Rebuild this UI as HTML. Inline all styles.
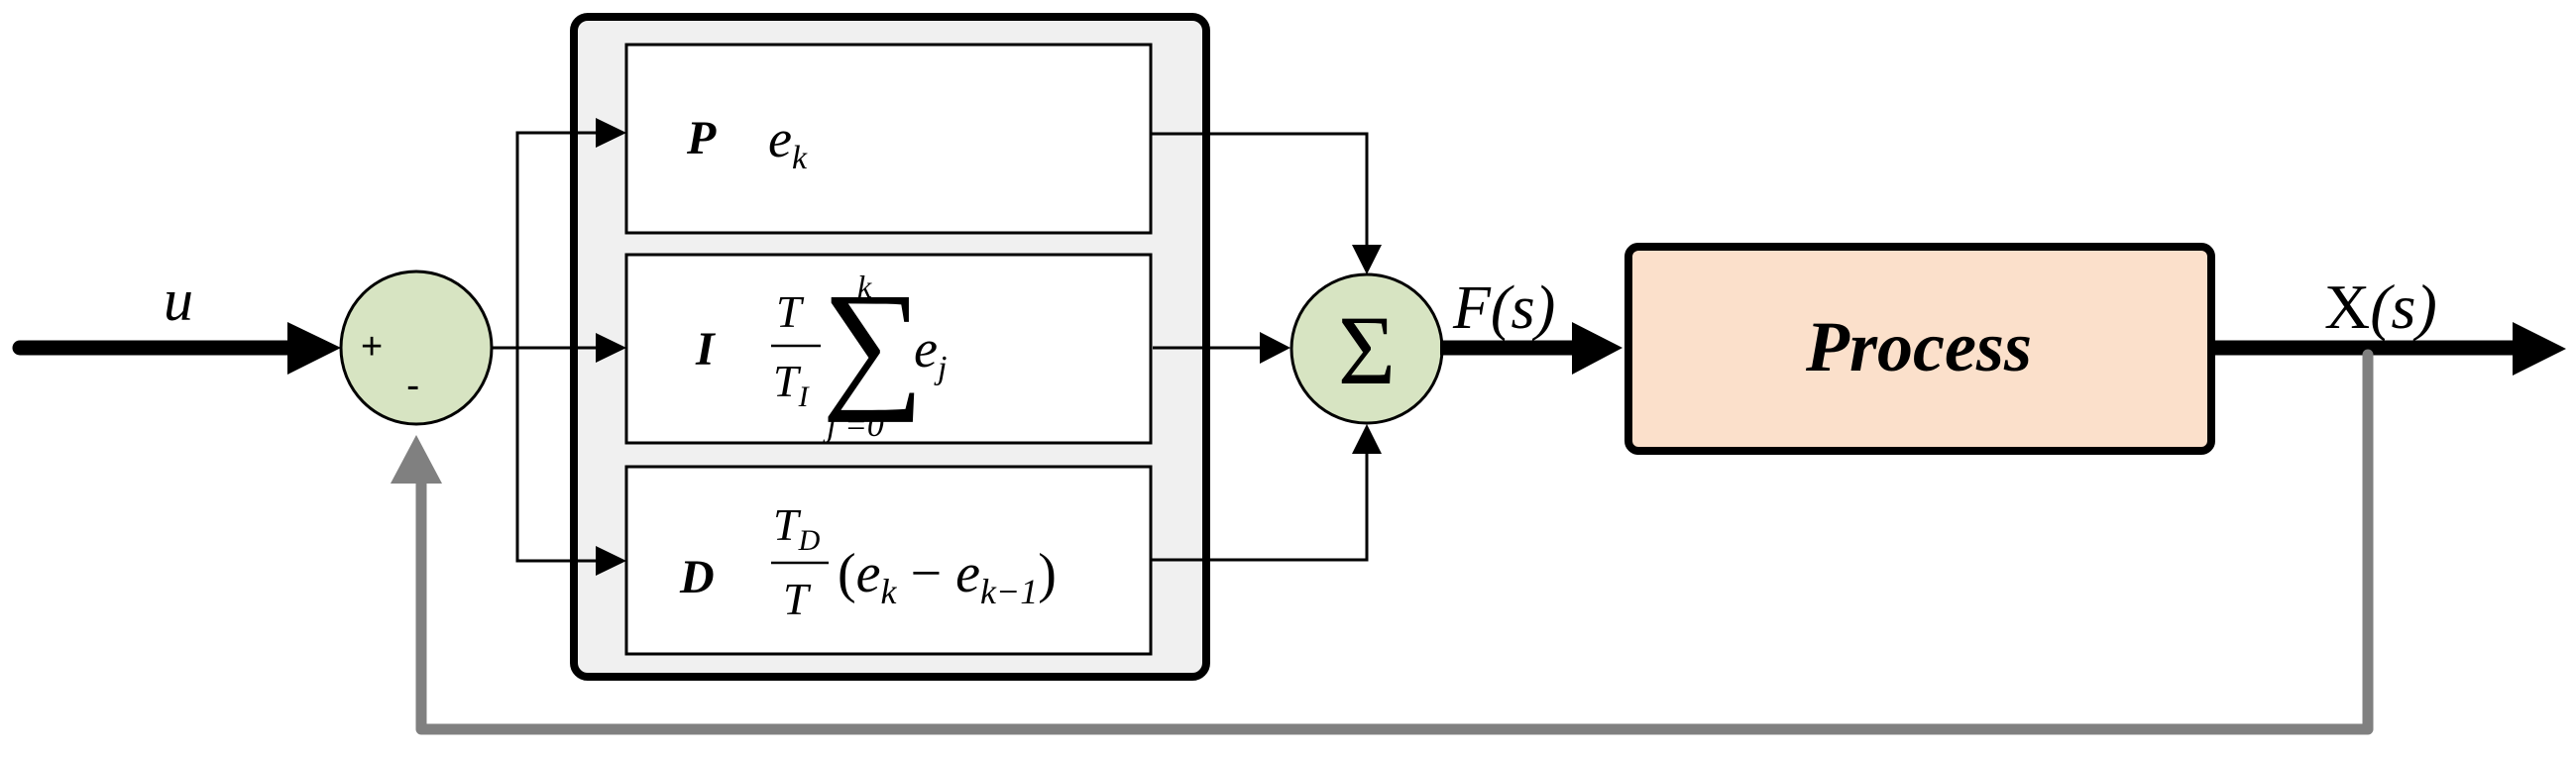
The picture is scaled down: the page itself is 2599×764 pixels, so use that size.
<!DOCTYPE html>
<html><head><meta charset="utf-8"><style>html,body{margin:0;padding:0;background:#fff}svg{display:block}</style></head>
<body>
<svg width="2599" height="764" viewBox="0 0 2599 764" xmlns="http://www.w3.org/2000/svg" font-family="Liberation Serif, serif">
<rect x="579" y="17" width="638" height="666" rx="14" fill="#f0f0f0" stroke="#000" stroke-width="8"/>
<rect x="632" y="45" width="529" height="190" fill="#fff" stroke="#000" stroke-width="3"/>
<rect x="632" y="257" width="529" height="190" fill="#fff" stroke="#000" stroke-width="3"/>
<rect x="632" y="471" width="529" height="189" fill="#fff" stroke="#000" stroke-width="3"/>

<polyline points="2389,356 2389,736 425,736 425,486" fill="none" stroke="#808080" stroke-width="11" stroke-linejoin="round" stroke-linecap="round"/>
<polygon points="394,488 446,488 420,439" fill="#808080"/>

<line x1="20" y1="351" x2="295" y2="351" stroke="#000" stroke-width="15" stroke-linecap="round"/>
<polygon points="290,325 344,351 290,378" fill="#000"/>
<text x="165" y="323" font-size="60" font-style="italic">u</text>

<ellipse cx="420" cy="351" rx="76" ry="77" fill="#d7e4c2" stroke="#000" stroke-width="3"/>
<text x="364" y="362" font-size="38" font-family="Liberation Sans, sans-serif">+</text>
<text x="410" y="402" font-size="40" font-family="Liberation Sans, sans-serif">-</text>

<g stroke="#000" stroke-width="3" fill="none">
<line x1="496" y1="351" x2="605" y2="351"/>
<polyline points="605,134 522,134 522,566 605,566"/>
<polyline points="1161,135 1379,135 1379,255"/>
<polyline points="1161,565 1379,565 1379,450"/>
<line x1="1163" y1="351" x2="1275" y2="351"/>
</g>
<polygon points="601,119 632,134 601,149" fill="#000"/>
<polygon points="601,336 632,351 601,366" fill="#000"/>
<polygon points="601,551 632,566 601,581" fill="#000"/>
<polygon points="1271,335 1302,351 1271,367" fill="#000"/>
<polygon points="1364,247 1394,247 1379,277" fill="#000"/>
<polygon points="1364,458 1394,458 1379,428" fill="#000"/>

<g font-style="italic">
<text x="693" y="155" font-size="48" font-weight="bold">P</text>
<text x="775" y="158" font-size="54">e<tspan font-size="34" dy="12">k</tspan></text>
<text x="702" y="368" font-size="48" font-weight="bold">I</text>
<text x="783" y="330" font-size="46">T</text>
<line x1="778" y1="349" x2="828" y2="349" stroke="#000" stroke-width="2.5"/>
<text x="780" y="400" font-size="46">T<tspan font-size="30" dy="10">I</tspan></text>
<text x="829" y="395" font-size="145" font-style="normal">∑</text>
<text x="865" y="300" font-size="32">k</text>
<text x="834" y="440" font-size="34">j =0</text>
<text x="922" y="370" font-size="54">e<tspan font-size="34" dy="12">j</tspan></text>
<text x="686" y="598" font-size="48" font-weight="bold">D</text>
<text x="780" y="545" font-size="46">T<tspan font-size="30" dy="10">D</tspan></text>
<line x1="778" y1="568" x2="836" y2="568" stroke="#000" stroke-width="2.5"/>
<text x="790" y="620" font-size="46">T</text>
<text x="845" y="597" font-size="56"><tspan font-style="normal">(</tspan>e<tspan font-size="36" dy="12">k</tspan><tspan dy="-12" font-style="normal"> − </tspan>e<tspan font-size="36" dy="12">k−1</tspan><tspan dy="-12" font-style="normal">)</tspan></text>
</g>

<ellipse cx="1379" cy="352" rx="76" ry="75" fill="#d7e4c2" stroke="#000" stroke-width="3"/>
<text x="1379" y="387" font-size="100" text-anchor="middle">Σ</text>
<text x="1466" y="331" font-size="62" font-style="italic">F(s)</text>

<line x1="1453" y1="351" x2="1590" y2="351" stroke="#000" stroke-width="15"/>
<polygon points="1586,325 1637,351 1586,378" fill="#000"/>
<rect x="1643" y="249" width="588" height="206" rx="10" fill="#fbe0cb" stroke="#000" stroke-width="8"/>
<text x="1936" y="374" font-size="72" font-style="italic" font-weight="bold" text-anchor="middle">Process</text>

<line x1="2235" y1="351" x2="2540" y2="351" stroke="#000" stroke-width="15"/>
<polygon points="2535,325 2589,352 2535,379" fill="#000"/>
<polyline points="2389,358 2389,366" stroke="#808080" stroke-width="11" stroke-linecap="round"/>
<text x="2345" y="331" font-size="64">X<tspan font-style="italic">(s)</tspan></text>
</svg>
</body></html>
